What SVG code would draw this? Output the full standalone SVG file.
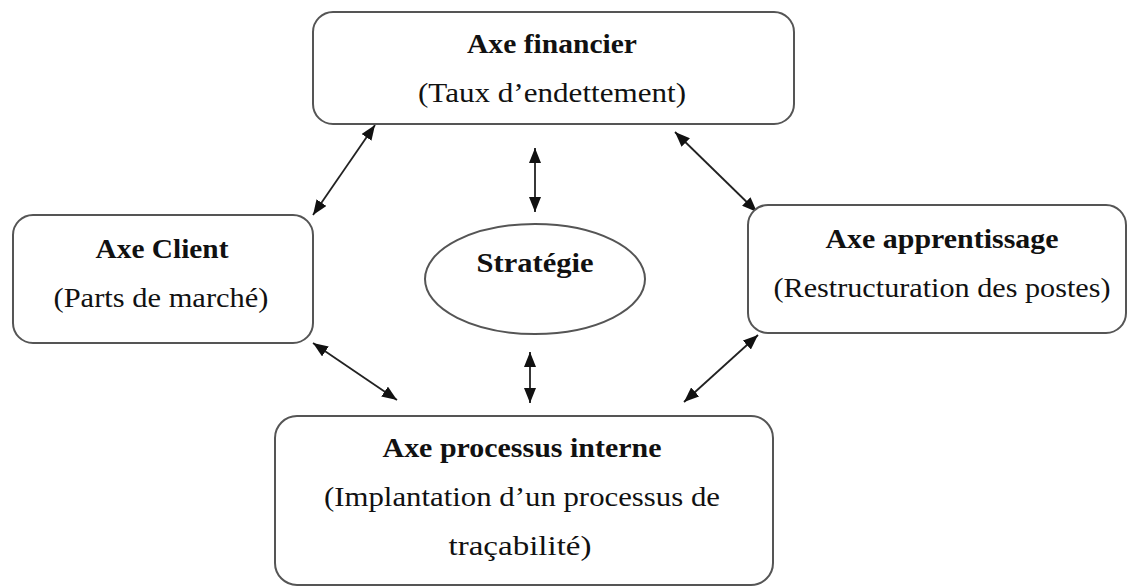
<svg xmlns="http://www.w3.org/2000/svg" width="1128" height="587" viewBox="0 0 1128 587">
<defs>
<marker id="ah" viewBox="0 0 15 12" refX="15" refY="6" markerWidth="15" markerHeight="12" markerUnits="userSpaceOnUse" orient="auto-start-reverse">
<path d="M0,0 L15,6 L0,12 Z" fill="#111"/>
</marker>
<style>
.box{fill:#fff;stroke:#555;stroke-width:2}
.t{font-family:"Liberation Serif","Times New Roman",serif;font-size:28px;fill:#111;text-anchor:middle}
.b{font-weight:bold}
.c{stroke:#222;stroke-width:1.8;fill:none;marker-start:url(#ah);marker-end:url(#ah)}
</style>
</defs>
<rect width="1128" height="587" fill="#fff"/>
<g id="connectors">
<line class="c" x1="375" y1="125" x2="313" y2="215"/>
<line class="c" x1="675" y1="132" x2="757" y2="212"/>
<line class="c" x1="313" y1="343" x2="397" y2="400"/>
<line class="c" x1="758" y1="335" x2="684" y2="402"/>
<line class="c" x1="535" y1="148" x2="535" y2="212"/>
<line class="c" x1="530" y1="352" x2="530" y2="403"/>
</g>
<g id="axe-financier">
<rect class="box" x="313" y="12" width="481" height="112" rx="20"/>
<text class="t b" x="552" y="53" textLength="170" lengthAdjust="spacingAndGlyphs">Axe financier</text>
<text class="t" x="552" y="102" textLength="268" lengthAdjust="spacingAndGlyphs">(Taux d’endettement)</text>
</g>
<g id="axe-client">
<rect class="box" x="13" y="215" width="300" height="128" rx="20"/>
<text class="t b" x="162" y="258" textLength="133" lengthAdjust="spacingAndGlyphs">Axe Client</text>
<text class="t" x="161" y="307" textLength="215" lengthAdjust="spacingAndGlyphs">(Parts de marché)</text>
</g>
<g id="axe-apprentissage">
<rect class="box" x="748" y="205" width="378" height="128" rx="20"/>
<text class="t b" x="942" y="248" textLength="233" lengthAdjust="spacingAndGlyphs">Axe apprentissage</text>
<text class="t" x="942" y="297" textLength="337" lengthAdjust="spacingAndGlyphs">(Restructuration des postes)</text>
</g>
<g id="strategie">
<ellipse class="box" cx="535" cy="279" rx="110" ry="55"/>
<text class="t b" x="535" y="272" textLength="117" lengthAdjust="spacingAndGlyphs">Stratégie</text>
</g>
<g id="axe-processus-interne">
<rect class="box" x="275" y="416" width="498" height="169" rx="22"/>
<text class="t b" x="522" y="457" textLength="279" lengthAdjust="spacingAndGlyphs">Axe processus interne</text>
<text class="t" x="522" y="506" textLength="396" lengthAdjust="spacingAndGlyphs">(Implantation d’un processus de</text>
<text class="t" x="520" y="555" textLength="143" lengthAdjust="spacingAndGlyphs">traçabilité)</text>
</g>
</svg>
